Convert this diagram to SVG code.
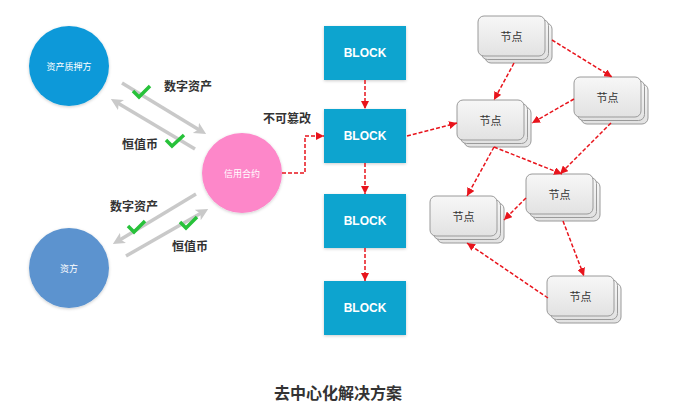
<svg xmlns="http://www.w3.org/2000/svg" width="673" height="407" viewBox="0 0 673 407">
<defs>
<style>
.lbl{font-family:"Noto Sans CJK SC","Liberation Sans",sans-serif;font-weight:bold;font-size:12px;fill:#333;text-anchor:middle;dominant-baseline:central}
.ctext{font-family:"Noto Sans CJK SC","Liberation Sans",sans-serif;font-size:9px;fill:#fff;text-anchor:middle;dominant-baseline:central}
.blk{fill:#08a4cf;filter:url(#sh)}
.btext{font-family:"Liberation Sans",Arial,sans-serif;font-weight:bold;font-size:12px;fill:#fff;text-anchor:middle;dominant-baseline:central}
.nr{fill:url(#ng);stroke:#9a9a9a;stroke-width:1}
.ntext{font-family:"Noto Sans CJK SC","Liberation Sans",sans-serif;font-size:11px;fill:#333;text-anchor:middle;dominant-baseline:central}
.red{fill:none;stroke:#e8141c;stroke-width:1.5;stroke-dasharray:4 2;marker-end:url(#ra)}
.gray{fill:none;stroke:#c9c9c9;stroke-width:3.5;marker-end:url(#ga)}
.chk{fill:none;stroke:#27c23a;stroke-width:3.5;stroke-linejoin:miter}
</style>
<linearGradient id="ng" x1="0" y1="0" x2="0" y2="1">
<stop offset="0" stop-color="#f7f7f7"/>
<stop offset="1" stop-color="#e2e2e2"/>
</linearGradient>
<filter id="sh" x="-20%" y="-20%" width="140%" height="140%">
<feDropShadow dx="0" dy="1" stdDeviation="1.5" flood-color="#000" flood-opacity="0.2"/>
</filter>
<marker id="ra" markerUnits="userSpaceOnUse" markerWidth="9" markerHeight="8" refX="8" refY="4" orient="auto">
<path d="M0,0 L8,4 L0,8 z" fill="#e8141c"/>
</marker>
<marker id="ga" markerUnits="userSpaceOnUse" markerWidth="13" markerHeight="13" refX="6" refY="6" orient="auto">
<path d="M0,0 L12,6 L0,12 L3,6 z" fill="#c9c9c9"/>
</marker>
</defs>
<rect width="673" height="407" fill="#fff"/>

<g id="node-zichanzhiyafang">
<circle cx="69" cy="66" r="40" fill="#0e99d9" filter="url(#sh)"/>
<text class="ctext" x="69" y="66">资产质押方</text>
</g>
<g id="node-zifang">
<circle cx="69" cy="268" r="40" fill="#5b93cf" filter="url(#sh)"/>
<text class="ctext" x="69" y="268">资方</text>
</g>
<g id="node-xinyongheyue">
<circle cx="242" cy="173" r="40" fill="#fd87c9" filter="url(#sh)"/>
<text class="ctext" x="242" y="173">信用合约</text>
</g>

<g id="block-1"><rect class="blk" x="324" y="26" width="82" height="54"/><text class="btext" x="365" y="53">BLOCK</text></g>
<g id="block-2"><rect class="blk" x="324" y="109" width="82" height="54"/><text class="btext" x="365" y="136">BLOCK</text></g>
<g id="block-3"><rect class="blk" x="324" y="194" width="82" height="54"/><text class="btext" x="365" y="221">BLOCK</text></g>
<g id="block-4"><rect class="blk" x="324" y="281" width="82" height="54"/><text class="btext" x="365" y="308">BLOCK</text></g>

<g id="peer-1">
<rect class="nr" x="485" y="23" width="67" height="40" rx="6"/>
<rect class="nr" x="481.5" y="19.5" width="67" height="40" rx="6"/>
<rect class="nr" x="478" y="16" width="67" height="40" rx="6"/>
<text class="ntext" x="511.5" y="36">节点</text>
</g>
<g id="peer-2">
<rect class="nr" x="464" y="107" width="67" height="40" rx="6"/>
<rect class="nr" x="460.5" y="103.5" width="67" height="40" rx="6"/>
<rect class="nr" x="457" y="100" width="67" height="40" rx="6"/>
<text class="ntext" x="490.5" y="120">节点</text>
</g>
<g id="peer-3">
<rect class="nr" x="581" y="84" width="67" height="40" rx="6"/>
<rect class="nr" x="577.5" y="80.5" width="67" height="40" rx="6"/>
<rect class="nr" x="574" y="77" width="67" height="40" rx="6"/>
<text class="ntext" x="607.5" y="97">节点</text>
</g>
<g id="peer-4">
<rect class="nr" x="533" y="181" width="67" height="40" rx="6"/>
<rect class="nr" x="529.5" y="177.5" width="67" height="40" rx="6"/>
<rect class="nr" x="526" y="174" width="67" height="40" rx="6"/>
<text class="ntext" x="559.5" y="194">节点</text>
</g>
<g id="peer-5">
<rect class="nr" x="437" y="203" width="67" height="40" rx="6"/>
<rect class="nr" x="433.5" y="199.5" width="67" height="40" rx="6"/>
<rect class="nr" x="430" y="196" width="67" height="40" rx="6"/>
<text class="ntext" x="463.5" y="216">节点</text>
</g>
<g id="peer-6">
<rect class="nr" x="554" y="283" width="67" height="40" rx="6"/>
<rect class="nr" x="550.5" y="279.5" width="67" height="40" rx="6"/>
<rect class="nr" x="547" y="276" width="67" height="40" rx="6"/>
<text class="ntext" x="580.5" y="296">节点</text>
</g>

<g id="connectors">
<path class="gray" d="M122,83 L201,131"/>
<path class="gray" d="M195,149 L116,102"/>
<path class="gray" d="M196,194 L118,241"/>
<path class="gray" d="M126,256 L203,212"/>
<path class="chk" d="M133,91 L139,97 L150,86"/>
<path class="chk" d="M166,140 L172,146 L184,135"/>
<path class="chk" d="M128,226 L134,232 L145,221"/>
<path class="chk" d="M180,222 L186,228 L197,217"/>
<path class="red" d="M282,173 L305,173 L305,136 L324,136"/>
<path class="red" d="M365,80 L365,109"/>
<path class="red" d="M365,163 L365,194"/>
<path class="red" d="M365,248 L365,281"/>
<path class="red" d="M407,136 L457,123"/>
<path class="red" d="M552,40 L612,77"/>
<path class="red" d="M514,63 L494,100"/>
<path class="red" d="M574,99 L532,123"/>
<path class="red" d="M494,147 L562,174"/>
<path class="red" d="M611,123 L560,174"/>
<path class="red" d="M494,147 L467,196"/>
<path class="red" d="M526,198 L504,220"/>
<path class="red" d="M563,221 L584,276"/>
<path class="red" d="M548,298 L467,243"/>
</g>

<g id="labels">
<text class="lbl" x="188" y="85">数字资产</text>
<text class="lbl" x="140" y="143">恒值币</text>
<text class="lbl" x="134" y="205">数字资产</text>
<text class="lbl" x="190" y="245">恒值币</text>
<text class="lbl" x="287" y="117">不可篡改</text>
<text class="lbl" x="338" y="392" style="font-size:16px">去中心化解决方案</text>
</g>
</svg>
